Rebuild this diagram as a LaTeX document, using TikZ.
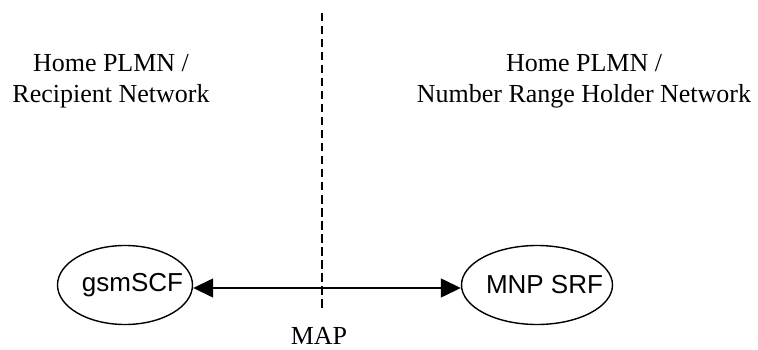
\documentclass[tikz,border=0pt]{standalone}
\usepackage{fontspec}
\setmainfont{Liberation Serif}
\newfontfamily\arialfont{Liberation Sans}
\usetikzlibrary{shapes.geometric,arrows.meta}
\tikzset{
  lbl/.style={font=\fontsize{26}{31.5}\selectfont, align=center, inner sep=0pt},
  func/.style={ellipse, draw, line width=1.4pt, inner sep=0pt,
    minimum width=#1, minimum height=79pt,
    font=\arialfont\fontsize{26}{31}\selectfont},
  link/.style={line width=1.4pt, {Triangle[length=20pt,width=19pt]}-{Triangle[length=20pt,width=19pt]}},
  divider/.style={line width=1.4pt, dash pattern=on 8.5pt off 4.5pt}
}
\begin{document}
\begin{tikzpicture}[x=1pt,y=-1pt]
\useasboundingbox (0,0) rectangle (758,350);
\coordinate (dtop) at (322,13);
\coordinate (dbot) at (322,310);
\draw[divider] (dtop) -- (dbot);
\node[lbl] (left) at (111,81) {Home PLMN /\\Recipient Network};
\node[lbl] (right) at (584,81) {Home PLMN /\\Number Range Holder Network};
\node[func=135pt] (gsm) at (125,285) {\makebox[0pt]{\hspace*{15pt}gsmSCF}};
\node[func=151pt] (mnp) at (537,285) {\makebox[0pt]{\hspace*{15pt}MNP SRF}};
\draw[link] ([yshift=-3pt]gsm.east) -- ([yshift=-3pt]mnp.west);
\node[lbl, anchor=base] (map) at (319,344) {MAP};
\end{tikzpicture}
\end{document}
